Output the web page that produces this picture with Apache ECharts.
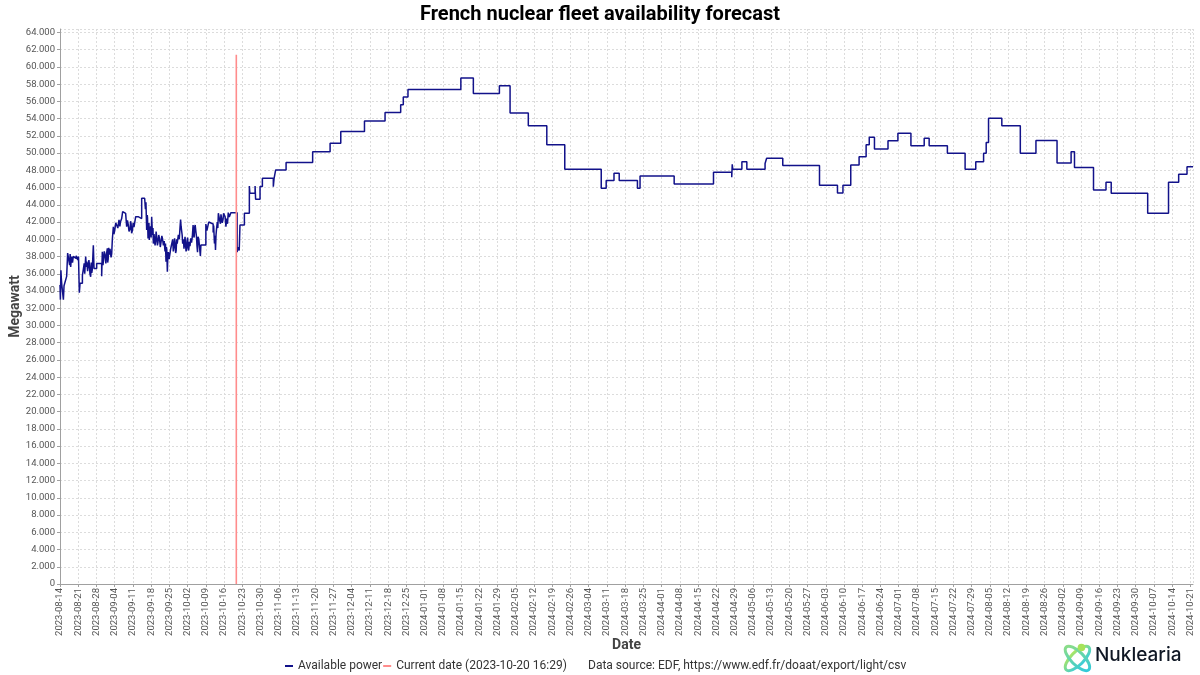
<!DOCTYPE html>
<html>
<head>
<meta charset="utf-8">
<script src="https://cdn.jsdelivr.net/npm/echarts@6/dist/echarts.min.js"></script>
<style>
html,body{margin:0;padding:0;background:#fff;}
#chart{width:1200px;height:675px;}
</style>
</head>
<body>
<div id="chart"></div>
<script>
// Day offsets are counted from this Monday (UTC)
const BASE_DATE = '2023-08-14';
const CURRENT_DATE_DAY = 67.69; // 2023-10-20 16:29
const CURRENT_DATE_TOP = 61400;

// Measured (history) – day offset / MW
const historyDay = [0,0.15,0.35,0.5,0.7,1.2,1.3,1.55,2.3,2.56,2.94,3.5,3.7,3.9,4.1,4.3,4.5,4.8,5.1,5.6,6.2,6.8,7.1,7.42,7.6,7.7,8.3,8.6,8.96,9.3,9.5,9.86,10.1,10.3,10.6,10.88,11.1,11.3,11.5,11.78,12.0,12.2,12.4,12.8,13.06,13.6,14.08,15.0,16.0,16.25,16.5,16.7,17.0,17.28,17.6,17.9,18.18,18.3,18.5,18.7,18.95,19.2,19.4,19.6,19.84,20.1,20.48,20.7,21.0,21.4,21.76,22.2,22.66,23.0,23.2,23.68,24.06,24.6,25.2,25.6,25.9,26.2,26.5,26.88,27.1,27.3,27.5,27.78,28.1,28.4,29.06,30.0,30.6,31.36,32.5,32.8,33.0,33.28,33.5,33.6,33.8,34.0,34.15,34.3,34.5,34.8,35.0,35.2,35.5,35.7,35.84,36.1,36.3,36.5,36.7,36.9,37.12,37.4,37.6,37.9,38.2,38.5,38.8,39.1,39.4,39.7,40.0,40.32,40.5,40.7,40.85,41.0,41.22,41.4,41.6,41.9,42.2,42.5,42.8,43.26,43.5,43.7,44.0,44.16,44.4,44.6,44.8,45.0,45.44,45.8,46.1,46.3,46.5,46.9,47.1,47.4,47.6,47.8,48.0,48.2,48.4,48.6,48.8,49.0,49.2,49.4,49.7,49.9,50.2,50.5,50.8,51.1,51.3,51.5,51.7,51.9,52.2,52.4,52.6,52.8,53.0,53.3,53.6,53.9,54.1,56.0,56.4,56.8,57.1,57.5,58.8,59.0,59.3,59.5,59.7,59.9,60.1,60.4,60.6,60.8,61.1,61.3,61.6,61.8,62.1,62.3,62.6,62.8,63.0,63.4,63.7,64.0,64.3,64.6,65.0,65.2,65.6];
const historyMW = [34700,33000,36400,35500,34700,34700,33000,34600,34600,35700,38400,38400,37000,38300,36800,37600,38000,37300,38000,37800,38100,37600,38000,33800,34500,34900,34900,35800,36500,37200,36000,38000,36800,37400,36300,36200,37600,37000,36000,35650,37300,36100,36500,39300,36600,36600,37200,37200,35700,38560,37000,37600,38600,38200,37200,38400,38950,37300,37700,39000,38200,38900,38800,37900,38300,40000,41460,40600,41000,41900,41660,41300,42240,41500,42000,42400,43200,43000,43100,41460,42200,41700,40900,41160,42100,41800,40700,41000,41900,41400,42620,42600,42400,44760,44760,43500,44300,41080,42800,42500,40100,40400,41900,39920,40900,41500,40200,42620,40500,41300,39500,40600,40800,39300,39800,40900,40300,39300,39600,40500,40100,39100,39700,40400,40000,39300,39800,38600,39500,37400,39100,38800,36230,38000,38500,37700,38300,38900,38700,40000,38600,39000,40100,39600,38400,38700,40000,39500,40500,40000,41460,42300,41460,40500,39500,40000,38900,39000,40300,40200,38600,38900,39900,40200,39000,38700,39700,39200,40100,39600,40300,41660,40500,40200,41400,41660,40800,40300,39200,38500,40300,40000,39000,38060,39330,41770,41000,41200,42000,41770,40800,41600,39500,40400,38750,40500,41200,42000,41300,43020,43090,42200,41800,42900,43090,41900,42300,43000,43090,42600,41460,42400,41800,43090,42600,42500,43090];

// Forecast – day offset / MW
const forecastDay = [68.0,68.4,68.8,69.1,70.8,72.7,72.9,74.9,75.1,76.8,77.7,81.9,82.2,82.8,86.8,97.0,103.7,107.8,116.9,124.8,130.8,131.8,133.6,153.9,158.7,168.7,172.8,179.8,186.9,193.8,207.8,209.7,212.7,214.7,221.7,222.7,235.8,250.9,257.9,258.1,258.3,261.8,263.7,270.7,271.3,277.5,291.6,298.5,300.6,303.6,306.8,309.5,310.7,312.7,317.9,321.7,326.7,331.8,333.7,340.7,347.5,351.6,354.6,355.6,356.5,361.6,368.7,374.7,382.8,388.2,389.5,396.8,401.6,403.6,417.6,425.6,429.5,432.7,435];
const forecastMW = [38500,39100,38700,41660,43020,46190,45340,46190,44640,46110,47080,46100,47080,48050,48900,50170,51150,52500,53730,54710,55600,56500,57380,58700,56910,57810,54640,53170,50960,48130,45920,46810,47660,46810,45920,47350,46420,47780,47200,48700,48130,49010,48130,48800,49410,48550,46270,45380,46270,48630,49590,50960,51850,50490,51420,52310,50840,51730,50840,49990,48130,49010,49990,51220,54050,53160,49990,51450,48860,50170,48320,45720,46620,45340,43020,46620,47550,48430,48430];

const TITLE = 'French nuclear fleet availability forecast';
const SERIES_NAMES = ['Available power', 'Current date (2023-10-20 16:29)'];
const SOURCE_TEXT = 'Data source: EDF, https://www.edf.fr/doaat/export/light/csv';

const baseMs = Date.parse(BASE_DATE + 'T00:00:00Z');
const fmtDate = d => new Date(baseMs + Math.round(d) * 86400000).toISOString().slice(0, 10);
const fmtMW = v => {
  if (v === 0) return '0';
  const th = Math.floor(v / 1000), r = Math.round(v % 1000);
  return th + '.' + String(r).padStart(3, '0');
};

const powerData = historyDay.map((d, i) => [d, historyMW[i]])
  .concat(forecastDay.map((d, i) => [d, forecastMW[i]]));
const currentData = [[CURRENT_DATE_DAY, 0], [CURRENT_DATE_DAY, CURRENT_DATE_TOP]];

const FONT = 'Roboto';
const chart = echarts.init(document.getElementById('chart'), null, {renderer: 'canvas'});
chart.setOption({
  animation: false,
  backgroundColor: '#ffffff',
  textStyle: {fontFamily: FONT},
  title: {
    text: TITLE, left: 'center', top: 0,
    textStyle: {fontFamily: FONT, fontSize: 20, fontWeight: 'bold', color: '#000'}
  },
  legend: {
    data: SERIES_NAMES, left: 280, top: 655, itemGap: 1,
    icon: 'rect', itemWidth: 8, itemHeight: 2,
    textStyle: {fontFamily: FONT, fontSize: 12, color: '#333'}
  },
  grid: {left: 60, right: 7, top: 29, bottom: 91, containLabel: false, outerBoundsMode: 'none'},
  xAxis: {
    type: 'value', min: 0, max: 435, interval: 7,
    name: 'Date', nameLocation: 'middle', nameGap: 54, nameMoveOverlap: false,
    nameTextStyle: {fontFamily: FONT, fontSize: 14, fontWeight: 'bold', color: '#444'},
    axisLine: {show: true, lineStyle: {color: '#a0a0a0'}},
    axisTick: {show: true, length: 3, lineStyle: {color: '#a0a0a0'}},
    axisLabel: {rotate: 90, fontSize: 9.5, color: '#555', margin: 4, showMaxLabel: false,
      formatter: v => fmtDate(v)},
    splitLine: {show: true, lineStyle: {color: '#dcdcdc', type: [2, 2], width: 1}}
  },
  yAxis: {
    type: 'value', min: 0, max: 64400, interval: 2000,
    name: 'Megawatt', nameLocation: 'middle', nameGap: 38, nameMoveOverlap: false,
    nameTextStyle: {fontFamily: FONT, fontSize: 14, fontWeight: 'bold', color: '#444'},
    axisLine: {show: true, lineStyle: {color: '#a0a0a0'}},
    axisTick: {show: true, length: 3, lineStyle: {color: '#a0a0a0'}},
    axisLabel: {fontSize: 9.5, color: '#555', margin: 5, showMaxLabel: false,
      formatter: v => fmtMW(v)},
    splitLine: {show: true, lineStyle: {color: '#dcdcdc', type: [2, 2], width: 1}}
  },
  series: [
    {
      name: SERIES_NAMES[0], type: 'line', step: 'end', data: powerData,
      showSymbol: false, symbol: 'none', color: '#12128a',
      lineStyle: {color: '#12128a', width: 1.5}
    },
    {
      name: SERIES_NAMES[1], type: 'line', data: currentData,
      showSymbol: false, symbol: 'none', color: '#ff8c8c',
      lineStyle: {color: '#ff8c8c', width: 1.6}
    }
  ],
  graphic: [
    {type: 'text', left: 588, top: 660,
      style: {text: SOURCE_TEXT, fontFamily: FONT, fontSize: 12, fill: '#333'}},
    {type: 'group', left: 1058, top: 639, children: [
      {type: 'ellipse', shape: {cx: 17, cy: 17, rx: 16, ry: 6.5}, rotation: Math.PI / 4, originX: 17, originY: 17,
        style: {fill: 'none', lineWidth: 3, stroke: new echarts.graphic.LinearGradient(0, 0, 0, 1, [{offset: 0, color: '#b4e85a'}, {offset: 1, color: '#2ec9e6'}])}},
      {type: 'ellipse', shape: {cx: 17, cy: 17, rx: 16, ry: 6.5}, rotation: -Math.PI / 4, originX: 17, originY: 17,
        style: {fill: 'none', lineWidth: 3, stroke: new echarts.graphic.LinearGradient(0, 0, 1, 1, [{offset: 0, color: '#9be07a'}, {offset: 1, color: '#22c7e8'}])}},
      {type: 'circle', shape: {cx: 21, cy: 6, r: 3.8}, style: {fill: '#a6e35a'}}
    ]},
    {type: 'text', left: 1095, top: 646,
      style: {text: 'Nuklearia', fontFamily: 'Inter', fontSize: 19, fontWeight: 500, fill: '#0f1724'}}
  ]
});
</script>
</body>
</html>
